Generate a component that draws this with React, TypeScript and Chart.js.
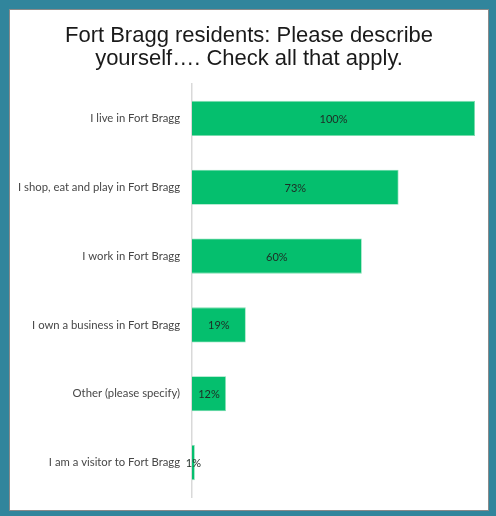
import React, { useEffect, useRef } from "react";
import { Chart, registerables } from "chart.js";

Chart.register(...registerables);

const categories = [
  "I live in Fort Bragg",
  "I shop, eat and play in Fort Bragg",
  "I work in Fort Bragg",
  "I own a business in Fort Bragg",
  "Other (please specify)",
  "I am a visitor to Fort Bragg",
];
const percentValues = [100, 73, 60, 19, 12, 1];
const titleLines = ["Fort Bragg residents: Please describe", "yourself…. Check all that apply."];

const barLabelPlugin = {
  id: "barLabels",
  afterDatasetsDraw(chart: any) {
    const { ctx } = chart;
    const meta = chart.getDatasetMeta(0);
    ctx.save();
    ctx.font = "11px Lato";
    ctx.fillStyle = "#1f2a24";
    ctx.textAlign = "center";
    ctx.textBaseline = "middle";
    meta.data.forEach((bar: any, i: number) => {
      const cx = (bar.x + bar.base) / 2;
      ctx.fillText(percentValues[i] + "%", cx, bar.y + 1);
    });
    ctx.restore();
  },
};

const titlePlugin = {
  id: "twoLineTitle",
  afterDraw(chart: any) {
    const { ctx } = chart;
    ctx.save();
    ctx.font = "22px 'Liberation Sans', Arial";
    ctx.fillStyle = "#1a1a1a";
    ctx.textAlign = "center";
    ctx.textBaseline = "alphabetic";
    titleLines.forEach((line, i) => {
      ctx.fillText(line, 249, 42 + i * 22.5);
    });
    ctx.restore();
  },
};

export default function App() {
  const ref = useRef<HTMLCanvasElement>(null);
  useEffect(() => {
    if (!ref.current) return;
    const chart = new Chart(ref.current, {
      type: "bar",
      data: {
        labels: categories,
        datasets: [
          {
            data: percentValues,
            backgroundColor: "#05BF6E",
            borderColor: "#7FDDB0",
            borderWidth: 0.8,
            categoryPercentage: 0.51,
            barPercentage: 1,
          },
        ],
      },
      options: {
        indexAxis: "y",
        animation: false,
        responsive: false,
        maintainAspectRatio: false,
        layout: { padding: { left: 0, right: 21, top: 84, bottom: 19 } },
        plugins: {
          legend: { display: false },
          tooltip: { enabled: false },
          title: { display: false },
        },
        scales: {
          x: {
            display: false,
            min: 0,
            max: 100,
          },
          y: {
            grid: { display: false },
            border: { display: true, color: "#d9d9d9", width: 1.5 },
            ticks: {
              color: "#474747",
              font: { family: "Lato", size: 11.3 },
              padding: 4,
            },
            afterFit(scale: any) {
              scale.width = 192;
            },
          },
        },
      },
      plugins: [barLabelPlugin, titlePlugin],
    });
    return () => chart.destroy();
  }, []);

  return (
    <div style={{ position: "fixed", left: 0, top: 0, width: 496, height: 516, background: "#fff" }}>
      <canvas ref={ref} width={496} height={516} style={{ position: "absolute", left: 0, top: 0 }} />
      <div
        style={{
          position: "absolute",
          left: 0,
          top: 0,
          width: 496,
          height: 516,
          boxSizing: "border-box",
          borderStyle: "solid",
          borderColor: "#31859C",
          borderWidth: "9px 7px 5px 9px",
          pointerEvents: "none",
        }}
      >
        <div style={{ width: "100%", height: "100%", boxSizing: "border-box", border: "1px solid #8a8a8a" }} />
      </div>
    </div>
  );
}
